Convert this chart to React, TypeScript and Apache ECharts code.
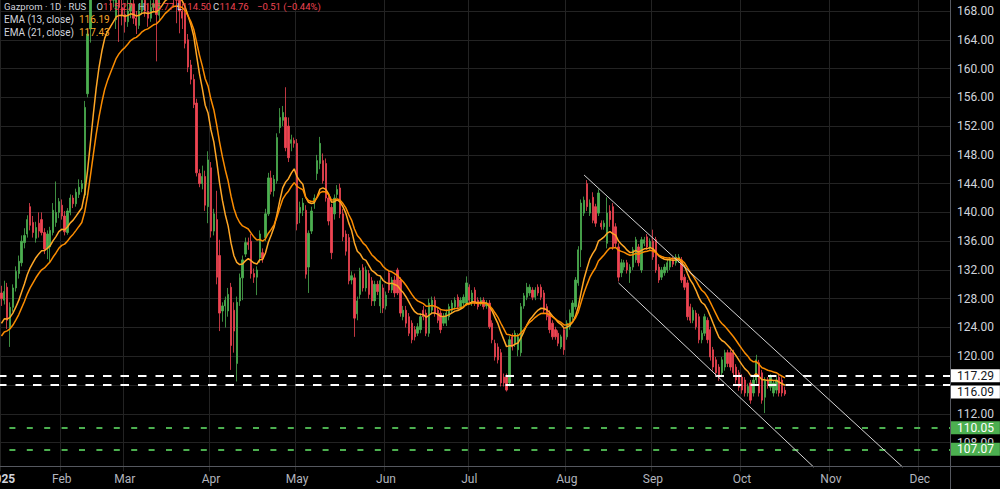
import React, { useEffect, useRef } from "react";
import * as echarts from "echarts";

// ---------- data ----------
const monthIndex = [0, 21, 43, 73, 103, 134, 163, 197, 227, 258, 289, 320];
const monthLabels = ["2025", "Feb", "Mar", "Apr", "May", "Jun", "Jul", "Aug", "Sep", "Oct", "Nov", "Dec"];
const slotCount = 331;

const yMin = 104;
const yMax = 172;
const yStep = 4;
// axis ticks that the reference hides behind the price boxes
const hiddenTicks = [116];

// [open, close, low, high]
const ohlc: number[][] = [
  [128.8, 128.0, 127.0, 129.8], [127.8, 129.0, 127.2, 130.5], [129.6, 125.0, 123.8, 130.2], [123.8, 126.8, 121.3, 127.5],
  [126.8, 129.5, 126.2, 130.0], [129.5, 131.8, 129.0, 132.5], [131.5, 133.2, 130.8, 134.0], [133.0, 136.0, 132.5, 136.8],
  [135.8, 136.8, 135.0, 137.8], [137.0, 139.0, 136.5, 139.6], [140.8, 138.2, 137.5, 141.3], [138.6, 137.2, 136.5, 139.5],
  [136.4, 137.9, 135.8, 138.7], [138.5, 137.4, 136.5, 140.0], [139.0, 137.2, 136.8, 140.0], [137.2, 134.9, 134.2, 137.8],
  [135.0, 137.0, 133.5, 137.5], [135.2, 137.5, 133.0, 138.0], [137.2, 140.3, 136.8, 141.3], [138.6, 140.0, 138.0, 144.3],
  [140.0, 141.5, 139.2, 142.0], [141.0, 139.5, 139.0, 141.8], [139.5, 137.3, 136.8, 140.2], [137.2, 140.2, 136.9, 140.6],
  [140.0, 142.0, 139.6, 142.5], [142.0, 141.2, 140.6, 142.4], [141.2, 142.8, 140.8, 143.3], [142.5, 143.5, 142.0, 144.6],
  [143.3, 144.0, 142.8, 144.5], [142.4, 154.6, 142.0, 155.5], [156.5, 164.8, 156.0, 165.5], [165.5, 173.0, 163.6, 174.5],
  [173.5, 177.0, 172.0, 178.5], [177.5, 179.0, 175.5, 181.0], [179.5, 178.0, 176.0, 180.5], [178.0, 176.0, 174.5, 179.0],
  [176.0, 175.0, 173.0, 177.5], [175.0, 171.0, 170.0, 176.0], [171.0, 169.5, 168.0, 172.5], [169.5, 170.5, 168.5, 172.0],
  [166.8, 171.5, 165.5, 172.5], [172.0, 168.5, 163.7, 173.0], [168.5, 167.5, 166.0, 170.0], [167.5, 166.5, 165.0, 169.0],
  [166.5, 168.0, 165.8, 169.5], [168.0, 169.0, 167.0, 170.5], [169.0, 167.0, 166.2, 170.0], [167.0, 166.0, 164.8, 168.0],
  [166.0, 168.0, 165.5, 169.0], [168.0, 169.5, 167.5, 170.5], [169.5, 168.0, 167.2, 170.5], [168.0, 167.0, 165.8, 169.0],
  [167.0, 168.5, 166.5, 169.5], [168.5, 169.0, 167.8, 170.2], [170.0, 167.5, 161.0, 171.0], [167.4, 170.5, 166.5, 171.5],
  [170.5, 172.0, 170.0, 173.5], [172.0, 173.0, 171.0, 174.5], [173.0, 171.5, 170.5, 174.0], [171.5, 172.5, 170.8, 173.5],
  [172.5, 171.0, 168.5, 173.0], [171.0, 169.5, 166.3, 172.0], [169.5, 168.0, 164.9, 170.5], [168.0, 167.0, 165.5, 169.0],
  [167.7, 163.5, 162.8, 168.5], [164.0, 160.2, 159.5, 164.8], [160.5, 158.5, 157.8, 161.2], [158.5, 155.0, 154.5, 159.2],
  [155.2, 145.5, 145.0, 155.8], [145.4, 144.0, 143.5, 146.0], [144.0, 145.0, 143.2, 146.5], [145.0, 141.0, 140.2, 145.8],
  [140.8, 147.3, 138.5, 148.5], [146.2, 137.4, 136.5, 147.0], [137.4, 139.8, 136.8, 140.5], [139.0, 131.0, 130.0, 143.0],
  [134.0, 126.0, 123.5, 136.2], [126.3, 127.0, 124.8, 127.5], [127.0, 127.8, 124.0, 128.3], [126.3, 128.6, 125.5, 129.5],
  [129.6, 121.5, 118.1, 130.2], [126.4, 123.5, 120.5, 127.5], [119.0, 127.5, 116.5, 128.3], [127.7, 130.9, 127.0, 131.5],
  [130.9, 133.4, 127.8, 134.0], [134.2, 135.8, 133.8, 136.5], [135.8, 135.5, 134.8, 136.5], [136.0, 131.5, 130.8, 137.0],
  [131.5, 131.0, 130.2, 132.2], [131.0, 132.0, 128.5, 132.5], [133.7, 137.0, 133.0, 137.5], [134.4, 133.6, 133.0, 135.0],
  [136.5, 139.8, 136.0, 140.5], [139.8, 144.8, 139.5, 145.5], [144.8, 142.9, 142.5, 145.8], [143.0, 144.6, 142.2, 145.2],
  [144.4, 150.4, 144.0, 151.0], [151.8, 153.2, 151.0, 154.5], [152.8, 153.9, 152.0, 154.8], [153.2, 149.0, 148.5, 157.4],
  [152.0, 147.6, 147.0, 153.2], [149.6, 150.1, 148.5, 150.8], [150.0, 149.6, 149.0, 150.4], [149.6, 138.4, 137.5, 150.2],
  [139.9, 140.7, 138.5, 141.5], [140.3, 141.3, 139.5, 142.0], [140.3, 131.4, 130.8, 141.0], [132.4, 137.1, 128.8, 137.5],
  [137.4, 140.2, 137.0, 140.8], [141.2, 142.0, 140.5, 142.5], [145.4, 147.2, 144.5, 148.0], [146.8, 149.6, 146.0, 150.5],
  [147.2, 144.4, 144.0, 148.2], [146.8, 142.0, 141.5, 147.5], [142.0, 138.8, 138.2, 142.5], [140.7, 134.4, 133.5, 141.2],
  [139.8, 142.0, 139.0, 142.5], [142.5, 143.2, 142.0, 143.8], [143.4, 139.8, 139.2, 144.0], [139.8, 136.6, 136.0, 140.5],
  [137.0, 134.6, 134.0, 137.5], [136.5, 130.5, 130.0, 137.0], [130.6, 131.2, 130.0, 131.8], [130.9, 125.3, 122.7, 131.5],
  [125.9, 127.7, 125.0, 128.3], [128.6, 131.9, 128.0, 132.3], [132.3, 129.5, 129.0, 132.8], [129.5, 132.0, 129.0, 132.5],
  [131.5, 128.6, 128.0, 132.0], [130.5, 127.7, 127.0, 131.0], [127.7, 130.0, 127.0, 130.5], [130.0, 129.0, 128.5, 130.5],
  [127.0, 130.5, 126.0, 131.0], [129.5, 126.7, 126.0, 130.0], [127.0, 128.5, 126.5, 129.0], [131.6, 129.2, 128.8, 132.0],
  [129.2, 130.6, 128.8, 131.0], [130.6, 128.8, 128.2, 131.2], [132.0, 128.8, 128.5, 132.3], [130.6, 126.0, 125.5, 131.0],
  [125.5, 126.4, 125.0, 127.0], [126.4, 124.6, 124.0, 127.0], [125.5, 123.2, 122.8, 126.0], [124.6, 122.3, 121.8, 125.0],
  [123.7, 122.7, 122.2, 124.2], [123.2, 124.1, 122.8, 124.6], [123.7, 125.5, 123.2, 126.0], [126.4, 125.5, 125.0, 127.0],
  [126.0, 123.2, 122.8, 126.5], [123.2, 127.4, 122.7, 128.0], [126.4, 127.8, 126.0, 128.3], [127.8, 126.0, 125.5, 128.3],
  [126.4, 125.0, 124.6, 126.8], [126.0, 123.7, 123.2, 126.4], [124.6, 125.5, 124.2, 126.0], [124.6, 126.0, 124.2, 126.5],
  [125.5, 126.9, 125.0, 127.3], [126.4, 127.4, 126.0, 127.8], [126.9, 127.8, 126.5, 128.2], [128.2, 126.9, 126.5, 128.6],
  [126.9, 127.8, 126.5, 128.2], [127.4, 128.2, 127.0, 128.6], [127.4, 130.2, 127.0, 131.1], [129.6, 127.8, 127.4, 130.0],
  [127.4, 128.8, 127.0, 129.2], [129.2, 127.4, 127.0, 129.6], [127.8, 126.9, 126.5, 128.2], [127.4, 127.8, 127.0, 128.2],
  [127.8, 126.9, 126.5, 128.2], [127.0, 127.4, 126.6, 127.8], [127.4, 124.1, 123.8, 127.8], [124.6, 122.3, 121.8, 125.0],
  [121.8, 119.9, 119.4, 122.3], [121.3, 119.5, 119.0, 121.8], [120.5, 116.3, 115.8, 121.0], [117.1, 116.3, 115.8, 117.6],
  [117.1, 115.3, 115.1, 117.6], [116.3, 122.3, 115.8, 122.8], [122.7, 121.3, 120.8, 123.2], [121.8, 123.2, 121.3, 123.6],
  [120.9, 122.7, 120.0, 123.2], [120.5, 126.9, 120.0, 127.4], [127.0, 128.4, 126.6, 128.8], [128.2, 129.6, 127.8, 130.2],
  [128.8, 129.6, 128.4, 130.0], [129.2, 128.2, 127.8, 129.6], [128.2, 129.2, 127.8, 129.6], [129.6, 128.8, 128.4, 130.0],
  [129.6, 128.2, 127.8, 130.0], [128.8, 126.4, 126.0, 129.2], [126.9, 125.5, 125.0, 127.3], [126.0, 123.7, 123.2, 126.4],
  [124.6, 122.7, 122.3, 125.0], [123.7, 122.7, 122.3, 124.1], [123.2, 121.8, 121.4, 123.6], [121.3, 122.7, 121.0, 123.0],
  [123.7, 120.9, 120.2, 124.1], [122.7, 124.6, 122.3, 125.0], [124.1, 126.0, 123.7, 126.5], [125.5, 127.4, 125.0, 127.8],
  [126.9, 130.6, 126.5, 131.0], [130.2, 134.8, 129.8, 135.3], [134.8, 141.3, 132.4, 141.8], [139.9, 141.7, 139.5, 142.2],
  [144.0, 140.8, 140.2, 144.5], [139.9, 141.3, 139.5, 141.8], [142.1, 138.9, 138.5, 142.8], [140.8, 138.5, 138.0, 141.2],
  [139.9, 142.7, 139.5, 143.2], [138.5, 138.0, 137.6, 138.9], [138.0, 138.5, 137.6, 138.9], [135.7, 139.9, 135.0, 142.1],
  [140.2, 139.0, 138.0, 141.0], [140.8, 135.2, 134.8, 141.3], [138.0, 135.7, 135.2, 138.5], [135.2, 131.0, 130.4, 135.7],
  [131.6, 133.0, 131.0, 133.5], [132.4, 133.0, 132.0, 133.4], [133.0, 132.0, 131.5, 133.4], [131.6, 132.4, 130.2, 132.8],
  [132.4, 134.8, 132.0, 135.2], [133.4, 136.2, 133.0, 136.6], [135.2, 133.0, 132.5, 135.6], [132.0, 136.2, 131.6, 136.6],
  [135.7, 136.2, 135.3, 136.6], [136.6, 135.2, 134.8, 137.0], [135.2, 136.0, 134.8, 136.4], [136.0, 133.8, 133.4, 137.6],
  [136.2, 132.0, 131.6, 136.6], [132.4, 130.6, 130.2, 132.8], [131.0, 132.0, 130.6, 132.4], [131.6, 132.4, 131.2, 132.8],
  [132.0, 133.0, 131.6, 133.4], [132.4, 133.4, 132.0, 133.8], [133.4, 132.8, 132.4, 133.8], [133.0, 133.8, 132.6, 134.2],
  [133.4, 133.8, 133.0, 134.2], [133.4, 130.6, 130.2, 133.8], [131.0, 129.6, 129.2, 131.4], [130.2, 125.5, 125.0, 130.6],
  [126.9, 125.0, 124.6, 127.3], [125.0, 126.4, 124.6, 126.8], [126.0, 124.1, 123.7, 126.4], [125.5, 122.3, 121.8, 125.9],
  [122.3, 123.2, 121.8, 123.6], [123.2, 125.5, 122.8, 125.9], [125.0, 122.3, 121.8, 125.4], [123.7, 119.9, 119.4, 124.1],
  [120.9, 118.5, 118.0, 121.3], [119.5, 117.7, 117.2, 119.9], [118.5, 117.1, 116.6, 118.9], [117.7, 119.5, 117.2, 119.9],
  [118.5, 120.5, 118.0, 120.9], [120.5, 119.0, 118.5, 120.9], [120.5, 118.5, 118.0, 120.9], [120.5, 117.7, 117.2, 120.9],
  [118.5, 116.7, 116.2, 118.9], [117.7, 115.7, 115.2, 118.1], [117.1, 115.3, 114.8, 117.5], [116.7, 114.9, 114.4, 117.1],
  [114.9, 115.8, 114.4, 116.2], [116.3, 113.9, 113.4, 116.7], [114.9, 116.7, 114.4, 117.1], [116.7, 119.5, 116.2, 120.2],
  [119.1, 114.9, 114.4, 119.5], [117.7, 113.9, 113.4, 118.1], [114.3, 116.7, 112.1, 117.1], [116.7, 116.0, 115.5, 117.1],
  [115.7, 117.1, 115.2, 117.5], [114.9, 116.3, 114.4, 116.7], [115.3, 116.7, 114.8, 117.1], [117.1, 114.9, 114.4, 117.5],
  [116.7, 114.9, 114.4, 117.1], [115.27, 114.76, 114.5, 115.77],
];

const ema13Start = 124.0;
const ema21Start = 122.3;

// horizontal levels
const whiteLevels = [117.29, 116.09];
const greenLevels = [110.05, 107.07];

// channel trend lines: [slot index, price]
const channelUpper = [[203, 145.2], [314, 104.6]];
const channelLower = [[215, 130.2], [283, 104.6]];

// legend
const legendSymbol = "Gazprom · 1D · RUS";
const legendOHLC = [["O", "115.27"], ["H", "115.77"], ["L", "114.50"], ["C", "114.76"]];
const legendChange = "−0.51 (−0.44%)";
const emaLegend = [["EMA (13, close)", "116.19"], ["EMA (21, close)", "117.43"]];

// ---------- helpers ----------
function emaOf(values: number[], period: number, start: number): number[] {
  const k = 2 / (period + 1);
  let prev = start;
  return values.map((v) => {
    prev = prev + k * (v - prev);
    return Math.round(prev * 1000) / 1000;
  });
}

const UP = "#4CAF50";
const DOWN = "#EF4452";
const TXT = "#d1d4dc";
const FONT = "Roboto";
const GRIDC = "#232323";

export default function App() {
  const ref = useRef<HTMLDivElement>(null);

  useEffect(() => {
    if (!ref.current) return;
    const chart = echarts.init(ref.current, undefined, { renderer: "svg" });

    const categories = Array.from({ length: slotCount }, (_, i) => "s" + i);
    const closes = ohlc.map((d) => d[1]);
    const ema13 = emaOf(closes, 13, ema13Start);
    const ema21 = emaOf(closes, 21, ema21Start);
    const isMonth = (i: number) => monthIndex.indexOf(i) >= 0;

    const levelLabel = (bg: string, fg: string, dy: number) => ({
      show: true,
      position: "end",
      distance: 1,
      color: fg,
      backgroundColor: bg,
      padding: [0, 6, 0, 6],
      lineHeight: 13,
      fontSize: 12,
      fontFamily: FONT,
      offset: [0, dy],
      formatter: (p: any) => Number(p.value).toFixed(2),
    });

    const markData: any[] = [];
    whiteLevels.forEach((v, idx) => {
      markData.push({
        yAxis: v,
        lineStyle: { color: "#ffffff", width: 2, type: [8.5, 9], dashOffset: 2.4 },
        label: levelLabel("#ffffff", "#131722", idx === 1 ? 7.5 : 0),
      });
    });
    greenLevels.forEach((v) => {
      markData.push({
        yAxis: v,
        lineStyle: { color: UP, width: 2, type: [6, 11.4], dashOffset: 8.4 },
        label: levelLabel(UP, "#ffffff", 0),
      });
    });
    [channelUpper, channelLower].forEach((ln) => {
      markData.push([
        { coord: [categories[ln[0][0]], ln[0][1]], lineStyle: { color: "#d6d6d6", width: 1, type: "solid" }, label: { show: false } },
        { coord: [categories[ln[1][0]], ln[1][1]] },
      ]);
    });

    const f1 = `9.5px ${FONT}`;
    const f2 = `10px ${FONT}`;
    const graphics: any[] = [
      { type: "line", z: 50, shape: { x1: 950.5, y1: 0, x2: 950.5, y2: 489 }, style: { stroke: "#55585f", lineWidth: 1 } },
      { type: "line", z: 50, shape: { x1: 0, y1: 466.5, x2: 1000, y2: 466.5 }, style: { stroke: "#55585f", lineWidth: 1 } },
      { type: "text", z: 100, x: 4, y: 6, style: { text: legendSymbol, fill: TXT, font: f1, verticalAlign: "middle" } },
    ];
    const ohlcX = [96.5, 138.5, 177, 213];
    legendOHLC.forEach((pair, i) => {
      graphics.push({ type: "text", z: 100, x: ohlcX[i], y: 6, style: { text: pair[0], fill: TXT, font: f1, verticalAlign: "middle" } });
      graphics.push({ type: "text", z: 100, x: ohlcX[i] + (pair[0] === "L" ? 5 : 6.5), y: 6, style: { text: pair[1], fill: DOWN, font: f1, verticalAlign: "middle" } });
    });
    graphics.push({ type: "text", z: 100, x: 257, y: 6, style: { text: legendChange, fill: DOWN, font: f1, verticalAlign: "middle" } });
    emaLegend.forEach((pair, i) => {
      const y = 19 + i * 13.6;
      graphics.push({ type: "text", z: 100, x: 4, y, style: { text: pair[0], fill: TXT, font: f2, verticalAlign: "middle" } });
      graphics.push({ type: "text", z: 100, x: 79, y, style: { text: pair[1], fill: "#F5A52A", font: f2, verticalAlign: "middle" } });
    });

    const option: any = {
      animation: false,
      backgroundColor: "#000000",
      textStyle: { fontFamily: FONT },
      grid: { left: 0, right: 50, top: -17.77, bottom: 17.65, containLabel: false, outerBoundsMode: "none" },
      xAxis: {
        type: "category",
        data: categories,
        boundaryGap: true,
        axisLine: { show: false },
        axisTick: { show: false },
        axisLabel: {
          interval: (i: number) => isMonth(i),
          formatter: (_v: string, i: number) => {
            const k = monthIndex.indexOf(i);
            if (k < 0) return "";
            return k === 0 ? `{yr|${monthLabels[k]}}` : monthLabels[k];
          },
          color: "#b2b5be",
          fontSize: 12,
          fontFamily: FONT,
          margin: 2,
          rich: { yr: { fontWeight: "bold", color: TXT, fontSize: 12, fontFamily: FONT } },
        },
        splitLine: { show: true, interval: (i: number) => isMonth(i), lineStyle: { color: GRIDC, width: 1 } },
      },
      yAxis: {
        type: "value",
        position: "right",
        min: yMin,
        max: yMax,
        interval: yStep,
        axisLine: { show: false },
        axisTick: { show: false },
        axisLabel: {
          formatter: (v: number) => (hiddenTicks.indexOf(v) >= 0 ? "" : v.toFixed(2)),
          color: TXT,
          fontSize: 12,
          fontFamily: FONT,
          margin: 7,
          showMinLabel: false,
          showMaxLabel: false,
        },
        splitLine: { show: true, showMinLine: false, showMaxLine: false, lineStyle: { color: GRIDC, width: 1 } },
      },
      series: [
        {
          type: "candlestick",
          data: ohlc,
          barWidth: 1.8,
          clip: true,
          itemStyle: { color: UP, color0: DOWN, borderColor: UP, borderColor0: DOWN, borderWidth: 0.8 },
          markLine: { symbol: ["none", "none"], silent: true, animation: false, data: markData },
        },
        {
          type: "line",
          data: ema13,
          showSymbol: false,
          symbol: "none",
          clip: true,
          lineStyle: { color: "#FFA726", width: 1.5 },
          z: 3,
        },
        {
          type: "line",
          data: ema21,
          showSymbol: false,
          symbol: "none",
          clip: true,
          lineStyle: { color: "#FB8C00", width: 1.5 },
          z: 3,
        },
      ],
      graphic: graphics,
    };

    chart.setOption(option);
    return () => chart.dispose();
  }, []);

  return (
    <div
      ref={ref}
      style={{ position: "fixed", left: 0, top: 0, width: 1000, height: 489, background: "#000" }}
    />
  );
}
